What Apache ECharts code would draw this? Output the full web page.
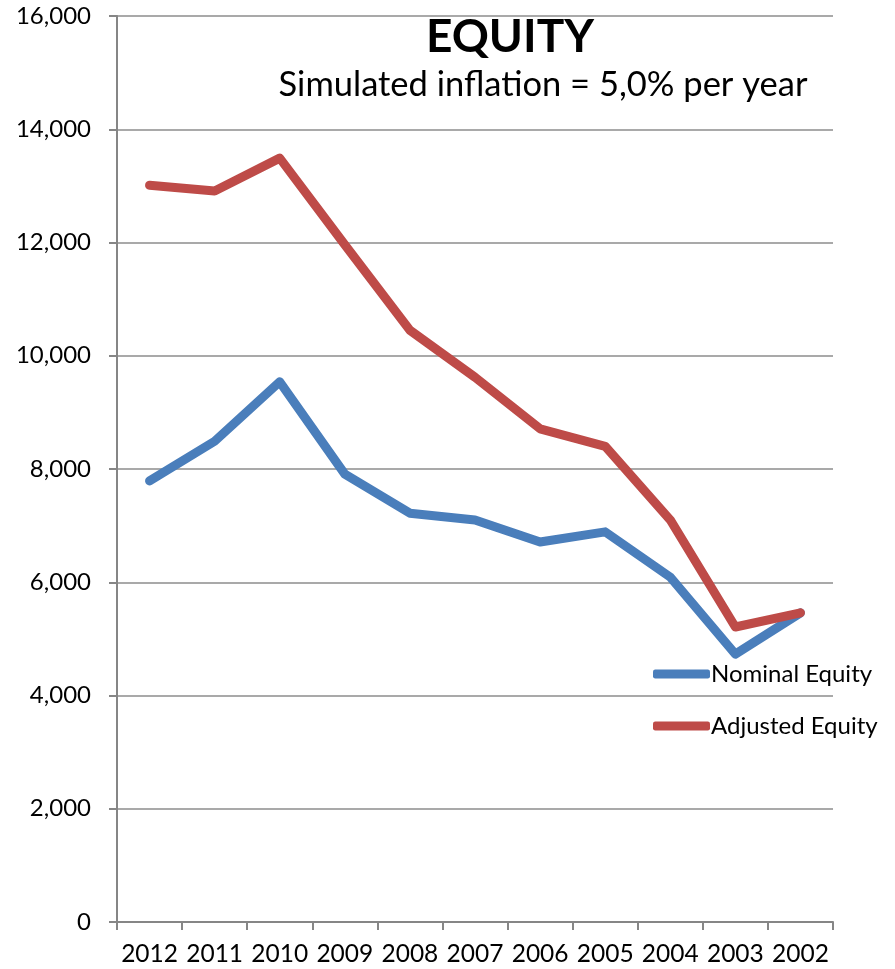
<!DOCTYPE html>
<html><head><meta charset="utf-8">
<script src="https://cdn.jsdelivr.net/npm/echarts@6/dist/echarts.min.js"></script>
<style>html,body{margin:0;padding:0;background:#fff}#c{width:895px;height:969px}</style>
</head><body><div id="c"></div>
<script>
const years = ['2012','2011','2010','2009','2008','2007','2006','2005','2004','2003','2002'];
const nominalEquity = [7790, 8490, 9540, 7910, 7220, 7100, 6710, 6890, 6090, 4730, 5460];
const adjustedEquity = [13010, 12910, 13490, 11960, 10450, 9620, 8710, 8400, 7100, 5210, 5460];
const yTicks = [0, 2000, 4000, 6000, 8000, 10000, 12000, 14000, 16000];

const FONT = 'Lato, "Open Sans", sans-serif';
const chart = echarts.init(document.getElementById('c'));
chart.setOption({
  animation: false,
  backgroundColor: '#fff',
  title: [
    {text: 'EQUITY', left: 505, top: 9, textAlign: 'center',
     textStyle: {fontFamily: FONT, fontSize: 46, fontWeight: 'bold', color: '#000'}},
    {text: 'Simulated inflation = 5,0% per year', left: 538, top: 62, textAlign: 'center',
     textStyle: {fontFamily: FONT, fontSize: 34.5, fontWeight: 'normal', color: '#000'}}
  ],
  legend: {
    orient: 'vertical', left: 648, top: 657, itemGap: 28,
    itemWidth: 57, itemHeight: 9, icon: 'roundRect',
    textStyle: {fontFamily: FONT, fontSize: 24, color: '#000', padding: [0,0,0,-4]},
    data: ['Nominal Equity', 'Adjusted Equity']
  },
  grid: {left: 117, right: 62, top: 16, bottom: 47},
  xAxis: {
    type: 'category', data: years, boundaryGap: true,
    axisLine: {lineStyle: {color: '#868686', width: 2}},
    axisTick: {show: true, length: 8, lineStyle: {color: '#868686', width: 2}},
    axisLabel: {fontFamily: FONT, fontSize: 24.5, color: '#000', margin: 20, interval: 0, hideOverlap: false}
  },
  yAxis: {
    type: 'value', min: 0, max: 16000, interval: 2000,
    axisLine: {show: true, lineStyle: {color: '#868686', width: 2}},
    axisTick: {show: true, length: 8, lineStyle: {color: '#868686', width: 2}},
    splitLine: {lineStyle: {color: '#8c8c8c', width: 1.5}},
    axisLabel: {fontFamily: FONT, fontSize: 24, color: '#000', margin: 26,
      formatter: v => v.toLocaleString('en-US')}
  },
  series: [
    {name: 'Nominal Equity', type: 'line', data: nominalEquity, symbol: 'none',
     lineStyle: {width: 9, color: '#4a7ebb', cap: 'round', join: 'round'}, itemStyle: {color: '#4a7ebb'}},
    {name: 'Adjusted Equity', type: 'line', data: adjustedEquity, symbol: 'none',
     lineStyle: {width: 9, color: '#be4b48', cap: 'round', join: 'round'}, itemStyle: {color: '#be4b48'}}
  ]
});
</script></body></html>
